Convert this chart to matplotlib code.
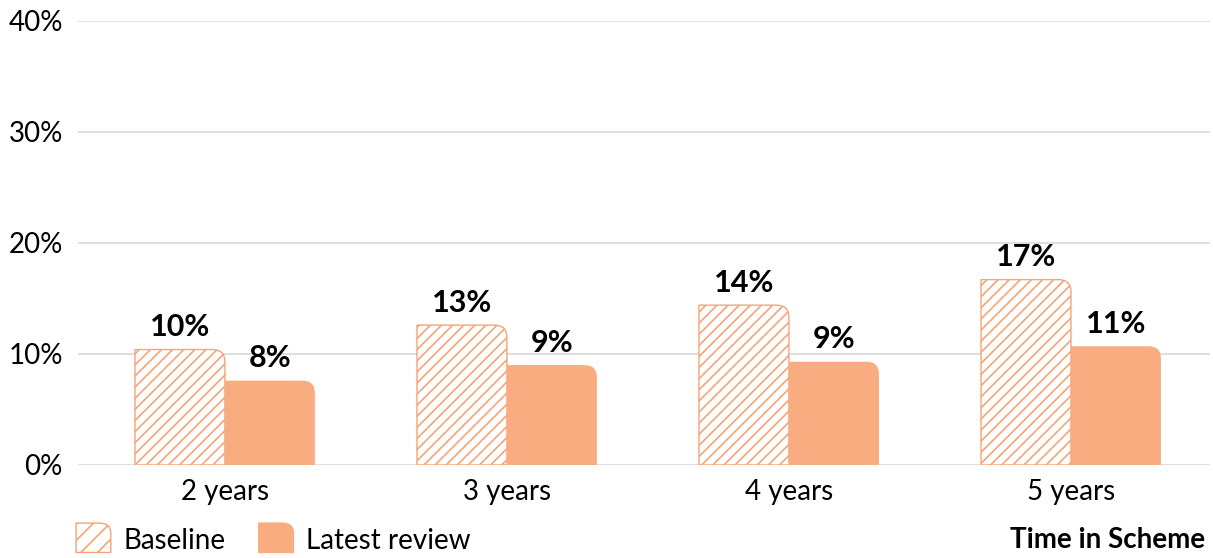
import numpy as np
import matplotlib
matplotlib.use("Agg")
import matplotlib.pyplot as plt
from matplotlib.path import Path
from matplotlib.patches import PathPatch, Patch

#--------Daten--------
categories = ["2 years", "3 years", "4 years", "5 years"]
baseline = [10.4, 12.6, 14.4, 16.7]
latest = [7.6, 9.0, 9.3, 10.7]
baseline_labels = ["10%", "13%", "14%", "17%"]
latest_labels = ["8%", "9%", "9%", "11%"]
yticks = [0, 10, 20, 30, 40]

orange = "#F8AC80"
hatch_col = "#F5A477"
grid_col = "#D9D9D9"

plt.rcParams['font.family'] = ['Lato', 'DejaVu Sans']
plt.rcParams['hatch.linewidth'] = 1.2
plt.rcParams['hatch.color'] = hatch_col


def rounded_path(x0, y0, w, h, rx, ry):
    # nur die obere rechte Ecke ist abgerundet
    ry = min(ry, h)
    verts = [(x0, y0), (x0 + w, y0), (x0 + w, y0 + h - ry), (x0 + w, y0 + h),
             (x0 + w - rx, y0 + h), (x0, y0 + h), (x0, y0), (x0, y0)]
    codes = [Path.MOVETO, Path.LINETO, Path.LINETO, Path.CURVE3,
             Path.CURVE3, Path.LINETO, Path.LINETO, Path.CLOSEPOLY]
    return Path(verts, codes)


class RoundHandler:
    def legend_artist(self, legend, orig_handle, fontsize, handlebox):
        w, h = handlebox.width, handlebox.height
        x0, y0 = handlebox.xdescent, handlebox.ydescent - 0.3 * fontsize
        p = PathPatch(rounded_path(x0, y0, w, h, w * 0.33, h * 0.33),
                      facecolor=orig_handle.get_facecolor(),
                      edgecolor=orig_handle.get_edgecolor(),
                      hatch=orig_handle.get_hatch(), lw=1.0,
                      transform=handlebox.get_transform())
        handlebox.add_artist(p)
        return p


fig = plt.figure(figsize=(12.13, 5.58), dpi=100)
ax = fig.add_axes([78 / 1213, 0.1667, 1132 / 1213, 0.7957])

x = np.arange(len(categories))
width = 0.319
rx = 0.045
ry = 1.1

b1 = ax.bar(x - width / 2, baseline, width, visible=False)
b2 = ax.bar(x + width / 2, latest, width, visible=False)

for rect, lab in zip(b1, baseline_labels):
    bx, by, bw, bh = rect.get_x(), rect.get_y(), rect.get_width(), rect.get_height()
    ax.add_patch(PathPatch(rounded_path(bx, by, bw, bh, rx, ry), facecolor="white",
                           edgecolor=hatch_col, hatch="///", lw=1.0, zorder=3))
    ax.annotate(lab, (bx + bw / 2, by + bh), xytext=(0, 6), textcoords="offset points",
                ha="center", va="bottom", fontsize=22, fontweight="bold")

for rect, lab in zip(b2, latest_labels):
    bx, by, bw, bh = rect.get_x(), rect.get_y(), rect.get_width(), rect.get_height()
    ax.add_patch(PathPatch(rounded_path(bx, by, bw, bh, rx, ry), facecolor=orange,
                           edgecolor="none", zorder=3))
    ax.annotate(lab, (bx + bw / 2, by + bh), xytext=(0, 6), textcoords="offset points",
                ha="center", va="bottom", fontsize=22, fontweight="bold")

ax.set_xlim(-0.521, 3.493)
ax.set_ylim(0, 40)
ax.set_yticks(yticks)
ax.set_yticklabels([f"{t}%" for t in yticks])
ax.set_xticks(x)
ax.set_xticklabels(categories)
ax.tick_params(length=0, labelsize=20, colors="black")
ax.tick_params(axis="y", pad=11)
ax.tick_params(axis="x", pad=10)
ax.grid(axis="y", color=grid_col, lw=1.2)
ax.set_axisbelow(True)
for s in ax.spines.values():
    s.set_visible(False)

handles = [Patch(facecolor="white", edgecolor=hatch_col, hatch="//"),
           Patch(facecolor=orange, edgecolor=orange)]
fig.legend(handles, ["Baseline", "Latest review"], loc="center left",
           bbox_to_anchor=(0.0627, 0.032), ncol=2, frameon=False, fontsize=20,
           handler_map={Patch: RoundHandler()}, handlelength=1.25, handleheight=1.25,
           handletextpad=0.45, columnspacing=1.2, borderpad=0, borderaxespad=0)
fig.text(0.9935, 0.032, "Time in Scheme", ha="right", va="center",
         fontsize=20, fontweight="bold")

fig.savefig("out.png", dpi=100)
